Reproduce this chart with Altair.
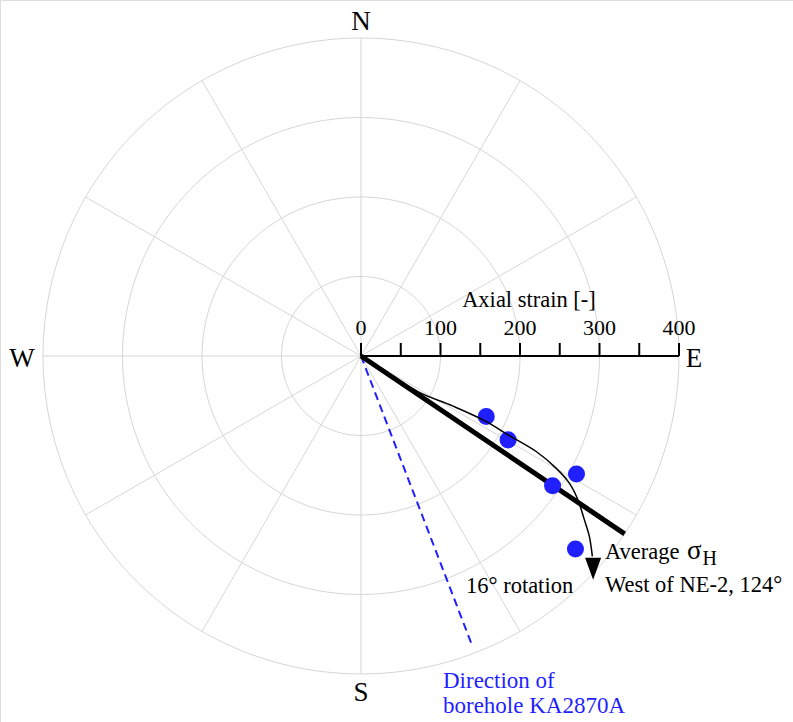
import altair as alt
import pandas as pd
import numpy as np

# ---- values (bearing in degrees clockwise from N, axial strain) ----
point_bearing = [115.8, 119.7, 118.7, 124.1, 132.0]
point_strain = [175, 213, 309, 291, 363]

avg_bearing = [124, 124]
avg_strain = [0, 400]

borehole_bearing = [159, 159]
borehole_strain = [0, 391]

curve_bearing = [124.0, 122.0, 118.6, 117.6, 118.2, 118.6, 119.9, 121.4, 123.5, 126.2, 128.3, 130.9]
curve_strain = [0, 85, 131, 178, 210, 251, 283, 307, 327, 348, 366, 385]

arrow_bearing = [132.5]
arrow_strain = [396]

ring_values = [100, 200, 300, 400]
spoke_bearings = list(range(0, 360, 30))
scale_major = [0, 100, 200, 300, 400]
scale_minor = [50, 150, 250, 350]
compass_labels = ["N", "E", "S", "W"]

# ---- helpers ----
def to_xy(bearing, strain):
    b = np.radians(np.asarray(bearing, dtype=float))
    r = np.asarray(strain, dtype=float)
    return r * np.sin(b), r * np.cos(b)

X_DOM = [-454.1, 543.4]
Y_DOM = [-460.4, 447.8]
xs = alt.Scale(domain=X_DOM, nice=False, zero=False)
ys = alt.Scale(domain=Y_DOM, nice=False, zero=False)

def X(field="x"):
    return alt.X(f"{field}:Q", scale=xs, axis=None)

def Y(field="y"):
    return alt.Y(f"{field}:Q", scale=ys, axis=None)

SERIF = "Liberation Serif"
GRID = "#d6d6d6"
BLUE = "#1f1fff"

def txt(df, size, color="black", align="left"):
    return alt.Chart(df).mark_text(font=SERIF, fontSize=size, baseline="alphabetic",
                                   align=align, color=color).encode(x=X(), y=Y(), text="t:N")

# rings
ring_rows = []
for rv in ring_values:
    for a in np.arange(0, 361, 2):
        x, y = to_xy(a, rv)
        ring_rows.append({"ring": rv, "a": a, "x": float(x), "y": float(y)})
rings = alt.Chart(pd.DataFrame(ring_rows)).mark_line(color=GRID, strokeWidth=1).encode(
    x=X(), y=Y(), detail="ring:N", order="a:Q")

# spokes
sx, sy = to_xy(spoke_bearings, [max(ring_values)] * len(spoke_bearings))
spokes_df = pd.DataFrame({"x": 0.0, "y": 0.0, "x2": sx, "y2": sy})
spokes = alt.Chart(spokes_df).mark_rule(color=GRID, strokeWidth=1).encode(
    x=X(), y=Y(), x2="x2:Q", y2="y2:Q")

# strain scale along E
axis_df = pd.DataFrame({"x": [0.0], "x2": [float(max(scale_major))], "y": [0.0]})
axis_line = alt.Chart(axis_df).mark_rule(color="black", strokeWidth=2).encode(
    x=X(), x2="x2:Q", y=Y())
tick_len = 16.4
ticks_df = pd.DataFrame({"x": scale_major + scale_minor, "y": 0.0, "y2": tick_len})
ticks = alt.Chart(ticks_df).mark_rule(color="black", strokeWidth=2).encode(
    x=X(), y=Y(), y2="y2:Q")
tick_labels = txt(pd.DataFrame({"x": scale_major, "y": 26.4, "t": [str(v) for v in scale_major]}),
                  22, align="center")
axis_title = txt(pd.DataFrame({"x": [211.3], "y": [61.6], "t": ["Axial strain [-]"]}),
                 22.5, align="center")

# compass labels
comp_pos = {"N": (0, 410), "E": (418.9, -13.8), "S": (0, -434), "W": (-426.4, -13.8)}
comp_df = pd.DataFrame({"t": compass_labels,
                        "x": [comp_pos[c][0] for c in compass_labels],
                        "y": [comp_pos[c][1] for c in compass_labels]})
compass = txt(comp_df, 27, align="center")

# borehole direction (dashed blue)
bx, by = to_xy(borehole_bearing, borehole_strain)
bore_df = pd.DataFrame({"x": [bx[0]], "y": [by[0]], "x2": [bx[1]], "y2": [by[1]]})
borehole = alt.Chart(bore_df).mark_rule(color=BLUE, strokeWidth=2, strokeDash=[8, 5]).encode(
    x=X(), y=Y(), x2="x2:Q", y2="y2:Q")

# average sigma_H (thick line)
ax_, ay_ = to_xy(avg_bearing, avg_strain)
avg_df = pd.DataFrame({"x": [ax_[0]], "y": [ay_[0]], "x2": [ax_[1]], "y2": [ay_[1]]})
avg_line = alt.Chart(avg_df).mark_rule(color="black", strokeWidth=5).encode(
    x=X(), y=Y(), x2="x2:Q", y2="y2:Q")

# measured points
px_, py_ = to_xy(point_bearing, point_strain)
pts = alt.Chart(pd.DataFrame({"x": px_, "y": py_})).mark_point(
    shape="circle", filled=True, color=BLUE, opacity=1, size=290).encode(x=X(), y=Y())

# thin rotation curve
cx, cy = to_xy(curve_bearing, curve_strain)
curve = alt.Chart(pd.DataFrame({"x": cx, "y": cy, "i": range(len(cx))})).mark_line(
    color="black", strokeWidth=1.5, interpolate="catmull-rom").encode(x=X(), y=Y(), order="i:Q")

hx, hy = to_xy(arrow_bearing, arrow_strain)
arrow = alt.Chart(pd.DataFrame({"x": hx, "y": hy})).mark_point(
    shape="M-0.73,-1L0.73,-1L0,1Z", filled=True, color="black", opacity=1, size=484,
    strokeWidth=0).encode(x=X(), y=Y())

# annotations
ann1 = txt(pd.DataFrame({
    "x": [306.9, 306.9, 132.1],
    "y": [-255.3, -296.9, -298.1],
    "t": ["Average", "West of NE-2, 124°", "16° rotation"],
}), 22.5)
sigma = txt(pd.DataFrame({"x": [410.0], "y": [-255.3], "t": ["σ"]}), 27)
sub = txt(pd.DataFrame({"x": [429.5], "y": [-262.9], "t": ["H"]}), 20)
ann2 = txt(pd.DataFrame({"x": [103.1, 103.1], "y": [-417.6, -449.1],
                         "t": ["Direction of", "borehole KA2870A"]}), 23, color=BLUE)

chart = alt.layer(
    rings, spokes, axis_line, ticks, tick_labels, axis_title, compass,
    borehole, avg_line, pts, curve, arrow, ann1, sigma, sub, ann2
).properties(
    width=793, height=722, padding=0, autosize=alt.AutoSizeParams(type="none")
).configure_view(strokeWidth=0, stroke="transparent").configure(background="white")

chart.save("out.html", embed_options={"renderer": "svg", "actions": False})
